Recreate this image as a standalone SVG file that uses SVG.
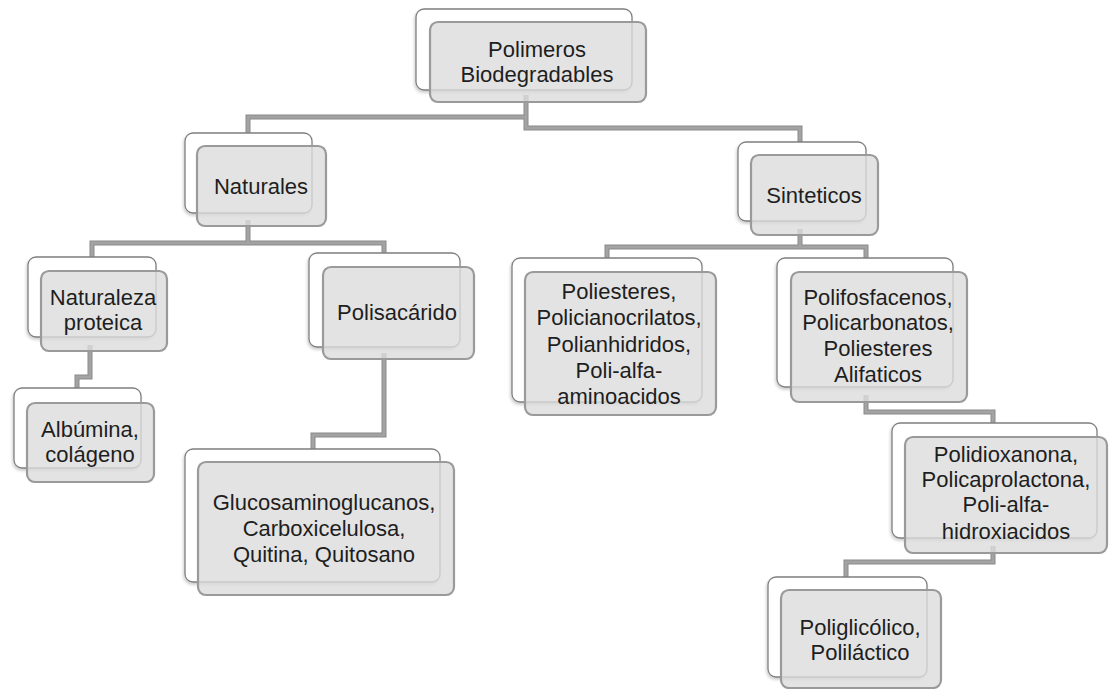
<svg xmlns="http://www.w3.org/2000/svg" width="1112" height="689" viewBox="0 0 1112 689">
<defs>
<filter id="sh" x="-10%" y="-10%" width="125%" height="130%">
<feDropShadow dx="-1" dy="2" stdDeviation="1.5" flood-color="#000" flood-opacity="0.2"/>
</filter>
</defs>
<style>
.bk{fill:#fff;stroke:#7f7f7f;stroke-width:1.3;filter:url(#sh)}
.fr{fill:#dcdcdc;fill-opacity:0.8;stroke:#9a9a9a;stroke-width:2.2}
.t{font-family:"Liberation Sans",Arial,sans-serif;font-size:22px;fill:#1e1e1e;text-anchor:middle}
.co{fill:none;stroke:#8a8a8a;stroke-width:5;stroke-linejoin:miter}
.ci{fill:none;stroke:#a3a3a3;stroke-width:3;stroke-linejoin:miter}
</style>
<rect width="1112" height="689" fill="#fff"/>
<g id="connectors">
<path class="co" d="M526,95 V117 H248 V135 M526,117 V128 H800 V144 M248,220 V243 H92 V259 M248,243 H384 V255 M90,345 V377 H77 V390 M384,353 V435 H313 V451 M800,229 V247 H607 V260 M800,247 H866 V260 M866,395 V412 H993 V425 M993,546 V562 H846 V579"/>
<path class="ci" d="M526,95 V117 H248 V135 M526,117 V128 H800 V144 M248,220 V243 H92 V259 M248,243 H384 V255 M90,345 V377 H77 V390 M384,353 V435 H313 V451 M800,229 V247 H607 V260 M800,247 H866 V260 M866,395 V412 H993 V425 M993,546 V562 H846 V579"/>
</g>
<g id="n-polimeros">
<rect class="bk" x="416" y="9" width="216" height="81" rx="8"/>
<rect class="fr" x="430" y="22" width="216" height="80" rx="8"/>
<text class="t" x="537" y="57">Polimeros</text>
<text class="t" x="537" y="82">Biodegradables</text>
</g>
<g id="n-naturales">
<rect class="bk" x="185" y="133" width="127" height="80" rx="8"/>
<rect class="fr" x="197" y="146" width="129" height="80" rx="8"/>
<text class="t" x="261" y="194">Naturales</text>
</g>
<g id="n-sinteticos">
<rect class="bk" x="738" y="142" width="128" height="79" rx="8"/>
<rect class="fr" x="751" y="155" width="127" height="80" rx="8"/>
<text class="t" x="814" y="203">Sinteticos</text>
</g>
<g id="n-naturaleza">
<rect class="bk" x="28" y="257" width="128" height="80" rx="8"/>
<rect class="fr" x="41" y="271" width="126" height="80" rx="8"/>
<text class="t" x="103" y="305">Naturaleza</text>
<text class="t" x="103" y="330">proteica</text>
</g>
<g id="n-polisacarido">
<rect class="bk" x="309" y="253" width="151" height="94" rx="8"/>
<rect class="fr" x="323" y="267" width="151" height="92" rx="8"/>
<text class="t" x="397" y="320">Polisacárido</text>
</g>
<g id="n-albumina">
<rect class="bk" x="14" y="388" width="127" height="80" rx="8"/>
<rect class="fr" x="27" y="403" width="127" height="79" rx="8"/>
<text class="t" x="90" y="437">Albúmina,</text>
<text class="t" x="90" y="462">colágeno</text>
</g>
<g id="n-glucos">
<rect class="bk" x="185" y="449" width="255" height="133" rx="8"/>
<rect class="fr" x="198" y="462" width="256" height="133" rx="8"/>
<text class="t" x="324" y="510">Glucosaminoglucanos,</text>
<text class="t" x="324" y="536">Carboxicelulosa,</text>
<text class="t" x="324" y="562">Quitina, Quitosano</text>
</g>
<g id="n-poliesteres">
<rect class="bk" x="512" y="258" width="190" height="144" rx="8"/>
<rect class="fr" x="525" y="272" width="191" height="143" rx="8"/>
<text class="t" x="619" y="299">Poliesteres,</text>
<text class="t" x="619" y="325">Policianocrilatos,</text>
<text class="t" x="619" y="352">Polianhidridos,</text>
<text class="t" x="619" y="378">Poli-alfa-</text>
<text class="t" x="619" y="404">aminoacidos</text>
</g>
<g id="n-polifosfacenos">
<rect class="bk" x="777" y="258" width="176" height="129" rx="8"/>
<rect class="fr" x="791" y="272" width="176" height="130" rx="8"/>
<text class="t" x="878" y="305">Polifosfacenos,</text>
<text class="t" x="878" y="330">Policarbonatos,</text>
<text class="t" x="878" y="356">Poliesteres</text>
<text class="t" x="878" y="382">Alifaticos</text>
</g>
<g id="n-polidioxanona">
<rect class="bk" x="892" y="423" width="205" height="115" rx="8"/>
<rect class="fr" x="905" y="437" width="202" height="116" rx="8"/>
<text class="t" x="1006" y="462">Polidioxanona,</text>
<text class="t" x="1006" y="487">Policaprolactona,</text>
<text class="t" x="1006" y="512">Poli-alfa-</text>
<text class="t" x="1006" y="539">hidroxiacidos</text>
</g>
<g id="n-poliglicolico">
<rect class="bk" x="768" y="577" width="159" height="100" rx="8"/>
<rect class="fr" x="781" y="590" width="160" height="98" rx="8"/>
<text class="t" x="860" y="635">Poliglicólico,</text>
<text class="t" x="860" y="660">Poliláctico</text>
</g>
</svg>
